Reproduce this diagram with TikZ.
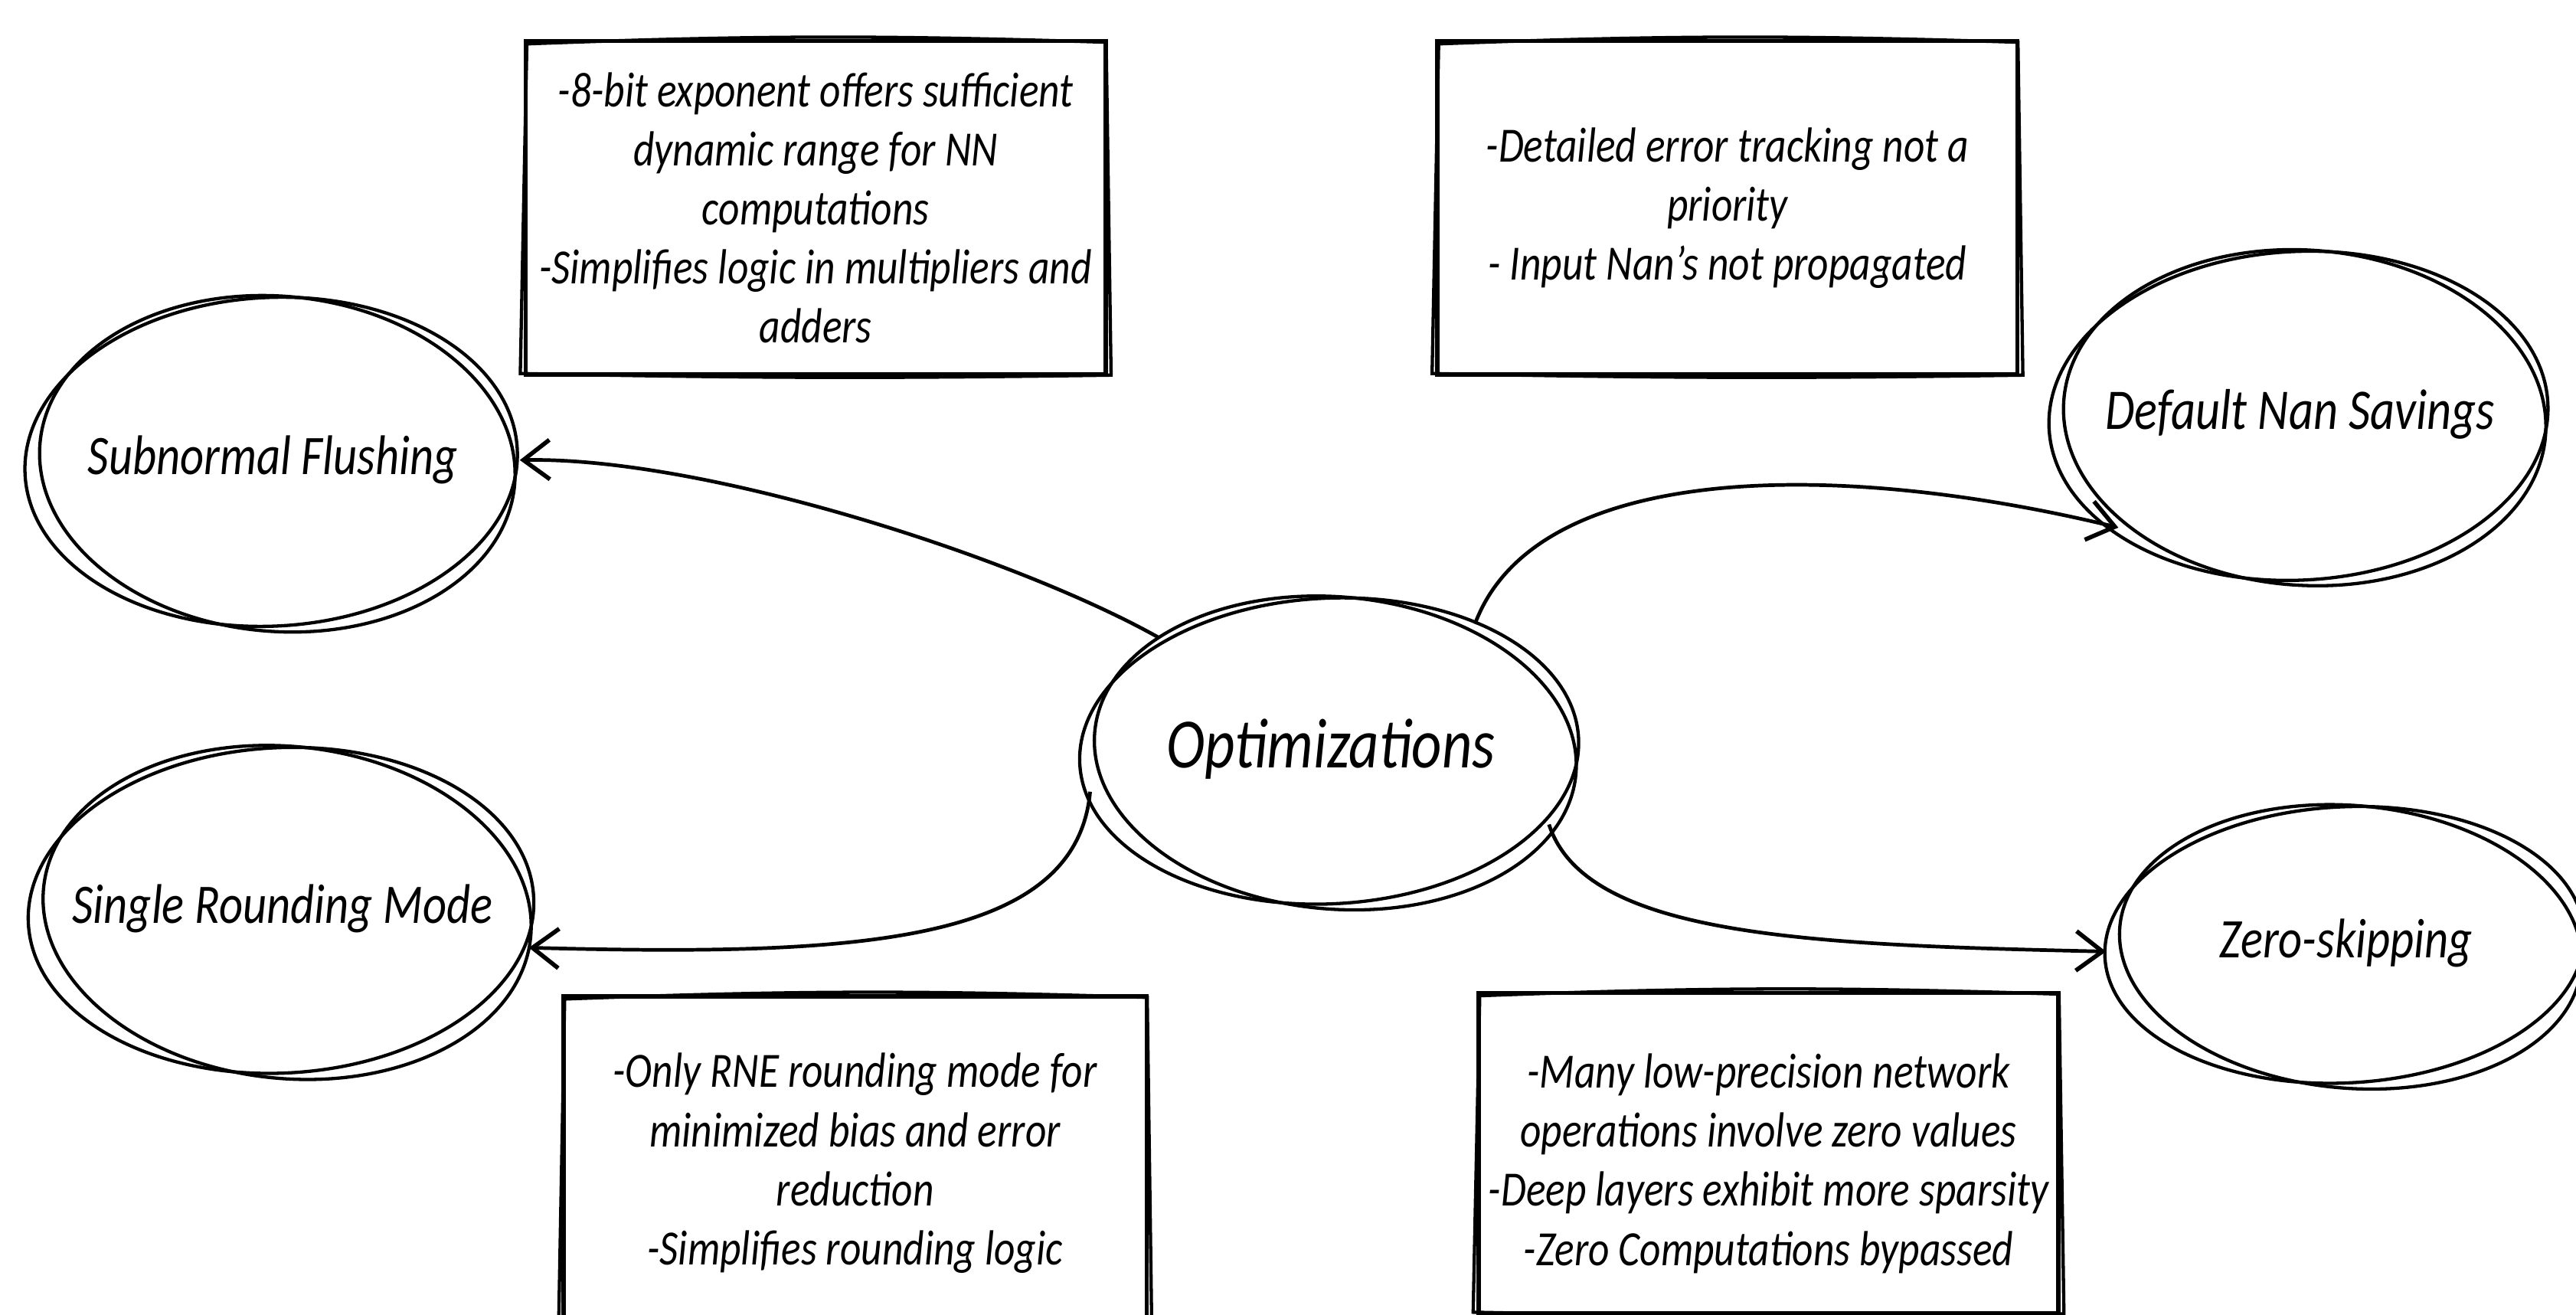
\documentclass[tikz,border=0pt]{standalone}
\usepackage{fontspec}
\setmainfont{Carlito}[FakeStretch=0.83]
\usetikzlibrary{shapes.geometric,arrows.meta,calc}
\newcommand{\roughell}[4]{%
  \draw[stroke, rotate around={3:(#1.center)}] ([shift={(-1,1)}]#1.center) ellipse [x radius=#2, y radius=#3];
  \draw[stroke, rotate around={#4:(#1.center)}] ([shift={(3,2)}]#1.center) ellipse [x radius=#2-5, y radius=#3+2];}
\newcommand{\roughbox}[1]{%
  \draw[stroke] ([shift={(2,3)}]#1.north west) to[bend left=2] ([shift={(-1,2)}]#1.north east)
    -- ([shift={(2,-1)}]#1.south east) to[bend left=1] ([shift={(-2,-2)}]#1.south west) -- cycle;}
\begin{document}
\begin{tikzpicture}[x=0.5pt,y=-0.5pt,
  bubble/.style={ellipse, draw=none, inner sep=0pt},
  notetext/.style={align=center, font=\itshape\fontsize{15}{18}\selectfont},
  note/.style={draw=black, line width=1.3pt, inner sep=0pt, notetext},
  stroke/.style={line width=1pt, black},
  conn/.style={line width=1.1pt, -{Straight Barb[length=8pt,width=12pt,line width=1.3pt]}}]
\useasboundingbox[fill=white] (0,0) rectangle (1568,800);

% bubbles
\node[bubble, minimum width=300pt*0.5, minimum height=200pt*0.5,
  label={[font=\itshape\fontsize{17}{20}\selectfont]center:Subnormal Flushing}] (sub) at (166,280) {};
\node[bubble, minimum width=308pt*0.5, minimum height=198pt*0.5,
  label={[font=\itshape\fontsize{17}{20}\selectfont]center:Single Rounding Mode}] (srm) at (172,553) {};
\node[bubble, minimum width=304pt*0.5, minimum height=186pt*0.5,
  label={[font=\itshape\fontsize{21.5}{26}\selectfont]center:Optimizations}] (opt) at (810,456) {};
\node[bubble, minimum width=304pt*0.5, minimum height=200pt*0.5,
  label={[font=\itshape\fontsize{17.5}{20}\selectfont]center:Default Nan Savings}] (dns) at (1400,252) {};
\node[bubble, minimum width=292pt*0.5, minimum height=168pt*0.5,
  label={[font=\itshape\fontsize{17}{20}\selectfont]center:Zero-skipping}] (zs) at (1428,574) {};

\roughell{sub}{150}{100}{-5}
\roughell{srm}{154}{99}{-6}
\roughell{opt}{152}{93}{-5}
\roughell{dns}{152}{100}{-4}
\roughell{zs}{146}{84}{-5}

% notes
\node[note, minimum width=353pt*0.5, minimum height=203pt*0.5] (na) at (496.5,126.5)
  {-8-bit exponent offers sufficient\\dynamic range for NN\\computations\\-Simplifies logic in multipliers and\\adders};
\node[note, minimum width=353pt*0.5, minimum height=203pt*0.5] (nb) at (1051.5,126.5)
  {-Detailed error tracking not a\\priority\\- Input Nan's not propagated};
\node[note, minimum width=355pt*0.5, minimum height=220pt*0.5, anchor=north] (nc) at (520.5,605)
  {};
\node[notetext] (tc) at (520.5,708)
  {-Only RNE rounding mode for\\minimized bias and error\\reduction\\-Simplifies rounding logic};
\node[note, minimum width=353pt*0.5, minimum height=195pt*0.5, anchor=north] (nd) at (1076.5,603)
  {};
\node[notetext] (td) at (1076.5,708)
  {-Many low-precision network\\operations involve zero values\\-Deep layers exhibit more sparsity\\-Zero Computations bypassed};

\roughbox{na}
\roughbox{nb}
\roughbox{nc}
\roughbox{nd}

% connectors
\draw[conn] (opt.147) .. controls (620,340) and (430,278) .. (sub.east);
\draw[conn] (opt.41) .. controls (935,280) and (1120,280) .. (dns.212);
\draw[conn] (opt.190) .. controls (655,575) and (520,582) .. (srm.-9);
\draw[conn] (opt.341) .. controls (965,570) and (1100,575) .. (zs.182);
\end{tikzpicture}
\end{document}
